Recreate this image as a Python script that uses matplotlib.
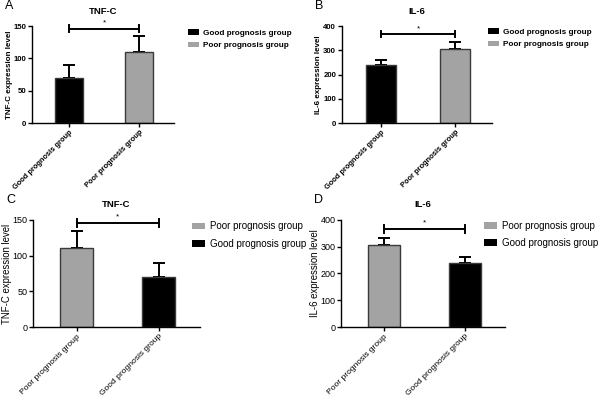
import matplotlib.pyplot as plt
from matplotlib.patches import Patch

plt.rcParams["font.family"] = ["Liberation Sans", "DejaVu Sans"]

groups = ["Good prognosis group", "Poor prognosis group"]
tnf_mean = [70, 110]
tnf_err = [20, 24]
il6_mean = [238, 305]
il6_err = [22, 29]
tnf_sig_y = 146
il6_sig_y = 367

BLACK = "#000000"
GRAY = "#a3a3a4"

fig = plt.figure(figsize=(6.03, 4.01), dpi=100)


def panel(rect, letter, title, ylabel, means, errs, names, colors, ymax, yticks,
          sig_y, bold, legend_xy, legend_gap):
    ax = fig.add_axes(rect)
    x = [0, 1]
    ax.bar(x, means, width=0.4, color=colors, edgecolor="#3a3a3a", linewidth=1.0, zorder=2)
    ax.errorbar(x, means, yerr=[[0, 0], errs], fmt="none", ecolor="black",
                elinewidth=1.4, capsize=4, capthick=1.4, zorder=1)
    # significance bracket
    ax.plot([0, 1], [sig_y, sig_y], color="black", lw=1.4, clip_on=False)
    h = ymax * 0.035
    for xi in x:
        ax.plot([xi, xi], [sig_y - h, sig_y + h], color="black", lw=1.4, clip_on=False)
    ax.text(0.5, sig_y + ymax * 0.02, "*", ha="center", va="bottom", fontsize=6)

    ax.set_xlim(-0.53, 1.5)
    ax.set_ylim(0, ymax)
    ax.set_yticks(yticks)
    ax.set_xticks(x)
    weight = "bold" if bold else "normal"
    fs = 5.6 if bold else 6.5
    ax.set_xticklabels(names, rotation=45, ha="right", rotation_mode="anchor",
                       fontsize=5.4 if bold else 6.1, fontweight=weight)
    for lab in ax.get_yticklabels():
        lab.set_fontsize(fs)
        lab.set_fontweight(weight)
    ax.set_ylabel(ylabel, fontsize=5.8 if bold else 6.9, fontweight=weight, labelpad=0.5)
    ax.set_title(title, fontsize=6.8, fontweight="bold", pad=9)
    ax.spines["top"].set_visible(False)
    ax.spines["right"].set_visible(False)
    ax.spines["left"].set_linewidth(1.0)
    ax.spines["bottom"].set_linewidth(1.0)
    ax.tick_params(axis="both", direction="out", length=3, width=1.0, pad=1.2)

    handles = [Patch(facecolor=c, edgecolor="none") for c in colors]
    lfs = 5.9 if bold else 7.0
    ax.legend(handles, names, loc="upper left", bbox_to_anchor=legend_xy,
              bbox_transform=fig.transFigure, frameon=False,
              prop={"size": lfs, "weight": weight},
              handlelength=1.35, handleheight=0.7, handletextpad=0.5,
              labelspacing=legend_gap, borderpad=0, borderaxespad=0)
    fig.text(rect[0] - 0.045, rect[1] + rect[3] + 0.035, letter, fontsize=9, va="bottom")
    return ax


panel([0.053, 0.693, 0.236, 0.242], "A", "TNF-C", "TNF-C expression level",
      tnf_mean, tnf_err, groups, [BLACK, GRAY], 150, [0, 50, 100, 150],
      tnf_sig_y, True, (0.311, 0.927), 0.55)
panel([0.567, 0.693, 0.249, 0.242], "B", "IL-6", "IL-6 expression level",
      il6_mean, il6_err, groups, [BLACK, GRAY], 400, [0, 100, 200, 300, 400],
      il6_sig_y, True, (0.809, 0.929), 0.55)

rev = [1, 0]
panel([0.055, 0.1845, 0.276, 0.267], "C", "TNF-C", "TNF-C expression level",
      [tnf_mean[i] for i in rev], [tnf_err[i] for i in rev], [groups[i] for i in rev],
      [GRAY, BLACK], 150, [0, 50, 100, 150],
      tnf_sig_y, False, (0.318, 0.448), 0.75)
panel([0.566, 0.1845, 0.272, 0.267], "D", "IL-6", "IL-6 expression level",
      [il6_mean[i] for i in rev], [il6_err[i] for i in rev], [groups[i] for i in rev],
      [GRAY, BLACK], 400, [0, 100, 200, 300, 400],
      il6_sig_y, False, (0.803, 0.450), 0.75)

fig.savefig("out.png", dpi=100)
